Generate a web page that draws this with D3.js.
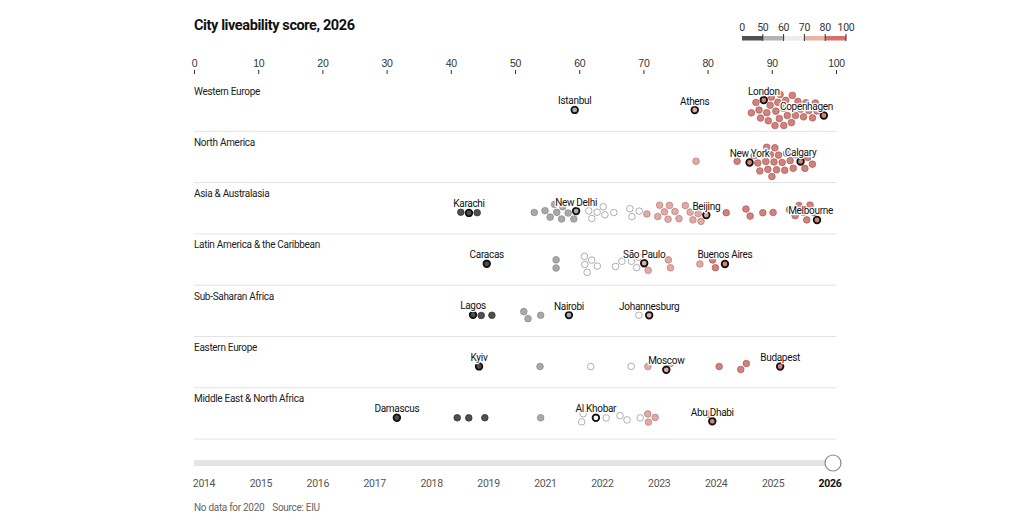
<!DOCTYPE html>
<html>
<head>
<meta charset="utf-8">
<script src="https://cdn.jsdelivr.net/npm/d3@7"></script>
<style>
  body { margin: 0; background: #fff; }
  svg { font-family: "Liberation Sans Narrow", "Roboto", sans-serif; letter-spacing: -0.3px; }
</style>
</head>
<body>
<div id="chart"></div>
<script>
// ---- data ----
const regions = [
  "Western Europe", "North America", "Asia & Australasia",
  "Latin America & the Caribbean", "Sub-Saharan Africa",
  "Eastern Europe", "Middle East & North Africa"
];

// unlabelled cities, score per city
const westernEurope = [86.9, 87.6, 88.0, 88.5, 89.2, 89.5, 89.9, 90.1, 90.3, 90.6, 90.9,
  91.1, 91.3, 91.7, 92.0, 92.2, 92.4, 92.7, 93.0, 93.4, 93.7, 94.1, 94.4, 94.9,
  95.3, 95.8, 96.3, 96.8, 97.1];
const northAmerica = [78.2, 84.6, 87.3, 87.9, 88.3, 88.7, 89.0, 89.2, 89.4, 89.8, 90.0, 90.2,
  90.6, 90.8, 91.0, 91.4, 91.8, 92.3, 92.8, 93.3, 93.8, 95.1, 95.6, 96.3];
const asiaAustralasia = [41.6, 44.1, 53.0, 54.7, 55.5, 56.2, 56.5, 57.2, 57.5, 58.3, 59.1,
  61.5, 62.0, 62.8, 63.7, 64.0, 65.4, 67.9, 68.2, 69.4,
  70.5, 72.3, 72.6, 73.2, 73.8, 74.1, 74.9, 75.5, 76.6, 77.3, 77.9, 78.3, 78.5, 78.8, 79.3,
  82.9, 86.0, 86.6, 88.6, 90.2, 92.8, 93.6, 94.3, 94.9, 95.4, 96.0, 96.5];
const latinAmerica = [56.4, 56.4, 60.9, 61.0, 61.2, 61.8, 62.8, 65.7, 66.6, 68.2, 68.9, 69.3,
  70.7, 73.9, 74.2, 78.8, 80.8, 81.2];
const subSaharanAfrica = [44.7, 46.4, 51.4, 52.0, 54.0, 69.3];
const easternEurope = [53.9, 61.8, 68.1, 70.7, 74.3, 81.8, 85.2, 86.0];
const middleEast = [41.0, 42.8, 45.3, 54.0, 60.4, 60.6, 64.2, 66.4, 67.4, 69.5, 70.7, 70.8, 71.8, 80.1];

const regionScores = [westernEurope, northAmerica, asiaAustralasia, latinAmerica,
  subSaharanAfrica, easternEurope, middleEast];

// labelled cities: [region, city, score]
const highlights = [
  ["Western Europe", "Istanbul", 59.3],
  ["Western Europe", "Athens", 78.0],
  ["Western Europe", "London", 88.9],
  ["Western Europe", "Copenhagen", 98.0],
  ["North America", "New York", 86.6],
  ["North America", "Calgary", 94.5],
  ["Asia & Australasia", "Karachi", 42.8],
  ["Asia & Australasia", "New Delhi", 59.5],
  ["Asia & Australasia", "Beijing", 79.7],
  ["Asia & Australasia", "Melbourne", 97.0],
  ["Latin America & the Caribbean", "Caracas", 45.6],
  ["Latin America & the Caribbean", "São Paulo", 70.1],
  ["Latin America & the Caribbean", "Buenos Aires", 82.7],
  ["Sub-Saharan Africa", "Lagos", 43.5],
  ["Sub-Saharan Africa", "Nairobi", 58.4],
  ["Sub-Saharan Africa", "Johannesburg", 70.9],
  ["Eastern Europe", "Kyiv", 44.4],
  ["Eastern Europe", "Moscow", 73.6],
  ["Eastern Europe", "Budapest", 91.3],
  ["Middle East & North Africa", "Damascus", 31.6],
  ["Middle East & North Africa", "Al Khobar", 62.6],
  ["Middle East & North Africa", "Abu Dhabi", 80.7]
];

const years = ["2014", "2015", "2016", "2017", "2018", "2019", "2021",
  "2022", "2023", "2024", "2025", "2026"];
const legendBreaks = [0, 50, 60, 70, 80, 100];
const dotColors = ["#4f4f4f", "#a9a9a9", "#ffffff", "#e1aaa4", "#d5807a"];
const legendColors = ["#505050", "#b3b3b3", "#ececec", "#e8b2aa", "#d8716b"];

// ---- layout ----
const width = 1024, height = 518;
const left = 194, right = 836;
const rowTop = 80, rowH = 51.3, r = 3.3;

const svg = d3.select("#chart").append("svg")
  .attr("width", width)
  .attr("height", height);

const x = d3.scaleLinear().domain([0, 100]).range([left, right]);
const color = d3.scaleThreshold().domain([50, 60, 70, 80]).range(dotColors);
const strokeColor = d3.scaleThreshold().domain([50, 60, 70, 80])
  .range(["#333", "#8c8c8c", "#9a9a9a", "#b98580", "#a9625d"]);
const y = d3.scaleBand().domain(regions).range([rowTop, rowTop + rowH * regions.length]);

// title
svg.append("text")
  .attr("x", left).attr("y", 30)
  .attr("font-size", 14.5).attr("font-weight", "bold").attr("fill", "#111")
  .attr("letter-spacing", -0.4)
  .text("City liveability score, 2026");

// legend
const lx = d3.scalePoint().domain(legendBreaks).range([742, 846]);
const legend = svg.append("g");
legend.selectAll("rect")
  .data(legendBreaks.slice(1))
  .enter().append("rect")
  .attr("x", (d, i) => lx(legendBreaks[i]))
  .attr("y", 36)
  .attr("width", (d, i) => lx(d) - lx(legendBreaks[i]))
  .attr("height", 4.5)
  .attr("fill", (d, i) => legendColors[i]);
legend.selectAll("line")
  .data(legendBreaks.slice(1))
  .enter().append("line")
  .attr("x1", d => lx(d)).attr("x2", d => lx(d))
  .attr("y1", 34).attr("y2", 41)
  .attr("stroke", "#333").attr("stroke-width", 1);
legend.selectAll("text")
  .data(legendBreaks)
  .enter().append("text")
  .attr("x", d => lx(d)).attr("y", 31)
  .attr("text-anchor", "middle")
  .attr("font-size", 10.5).attr("fill", "#333")
  .text(d => d);

// top axis
const axis = svg.append("g")
  .attr("transform", "translate(0,74)")
  .call(d3.axisTop(x).tickValues(d3.range(0, 101, 10)).tickSize(4).tickPadding(3));
axis.select(".domain").remove();
axis.selectAll("line").attr("stroke", "#333");
axis.selectAll("text")
  .attr("font-family", null)
  .attr("font-size", 10.5).attr("fill", "#333");

// rows
const rows = svg.append("g");
rows.selectAll("text")
  .data(regions)
  .enter().append("text")
  .attr("x", left)
  .attr("y", d => y(d) + 14.5)
  .attr("font-size", 10).attr("fill", "#222")
  .text(d => d);
rows.selectAll("line")
  .data(regions)
  .enter().append("line")
  .attr("x1", left).attr("x2", right)
  .attr("y1", d => y(d) + rowH).attr("y2", d => y(d) + rowH)
  .attr("stroke", "#e3e3e3").attr("stroke-width", 1);

// nodes: force layout per region
let nodes = [];
regions.forEach((region, ri) => {
  const cy = y(region) + 30;
  const list = regionScores[ri].map(s => ({ region, score: s, name: null }))
    .concat(highlights.filter(h => h[0] === region)
      .map(h => ({ region, score: h[2], name: h[1] })));
  list.sort((a, b) => a.score - b.score);
  list.forEach((d, i) => {
    d.x = x(d.score);
    d.y = cy + ((i % 3) - 1) * 3;
  });
  const sim = d3.forceSimulation(list)
    .force("x", d3.forceX(d => x(d.score)).strength(0.6))
    .force("y", d3.forceY(cy).strength(0.05))
    .force("collide", d3.forceCollide(r + 0.8).iterations(3))
    .stop();
  for (let i = 0; i < 300; i++) sim.tick();
  nodes = nodes.concat(list);
});

const plain = nodes.filter(d => !d.name);
const named = nodes.filter(d => d.name);

svg.append("g").selectAll("circle")
  .data(plain)
  .enter().append("circle")
  .attr("cx", d => d.x).attr("cy", d => d.y)
  .attr("r", r)
  .attr("fill", d => color(d.score))
  .attr("stroke", d => strokeColor(d.score))
  .attr("stroke-width", 0.8);

svg.append("g").selectAll("circle")
  .data(named)
  .enter().append("circle")
  .attr("cx", d => d.x).attr("cy", d => d.y)
  .attr("r", r)
  .attr("fill", d => color(d.score))
  .attr("stroke", "#111")
  .attr("stroke-width", 1.8);

const labels = svg.append("g").selectAll("text")
  .data(named)
  .enter().append("text")
  .attr("y", d => d.y - 5.5)
  .attr("text-anchor", "middle")
  .attr("font-size", 10).attr("fill", "#111")
  .attr("stroke", "#fff").attr("stroke-width", 2.5)
  .attr("paint-order", "stroke").attr("stroke-linejoin", "round")
  .text(d => d.name);
labels.attr("x", function(d) {
  const w = this.getComputedTextLength();
  return Math.min(d.x, right - 3 - w / 2);
});

// year slider
const yr = d3.scalePoint().domain(years).range([204, 830]);
svg.append("rect")
  .attr("x", left).attr("y", 460)
  .attr("width", yr("2026") + 3 - left).attr("height", 6)
  .attr("fill", "#e4e4e4");
svg.append("circle")
  .attr("cx", yr("2026") + 3).attr("cy", 463).attr("r", 8)
  .attr("fill", "#fff").attr("stroke", "#8a8a8a").attr("stroke-width", 1.2);
svg.append("g").selectAll("text")
  .data(years)
  .enter().append("text")
  .attr("x", d => yr(d)).attr("y", 487)
  .attr("text-anchor", "middle")
  .attr("font-size", 10.5)
  .attr("font-weight", d => d === "2026" ? "bold" : null)
  .attr("fill", d => d === "2026" ? "#111" : "#555")
  .text(d => d);

// footer
const note = svg.append("text")
  .attr("x", left).attr("y", 511)
  .attr("font-size", 10).attr("fill", "#666")
  .text("No data for 2020");
svg.append("text")
  .attr("x", left + note.node().getComputedTextLength() + 8).attr("y", 511)
  .attr("font-size", 10).attr("fill", "#666")
  .text("Source: EIU");
</script>
</body>
</html>
